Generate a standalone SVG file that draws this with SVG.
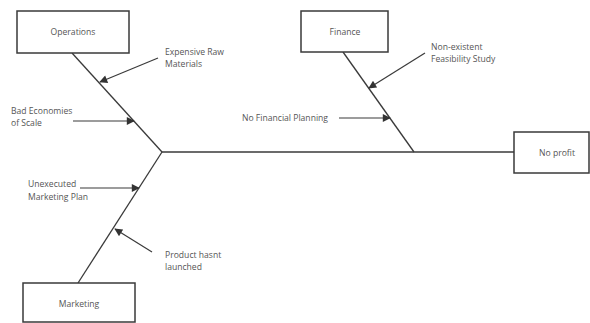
<svg xmlns="http://www.w3.org/2000/svg" width="590" height="323" viewBox="0 0 590 323">
<style>
.box{fill:#fff;stroke:#3a3a3a;stroke-width:1.5}
.bone{stroke:#3a3a3a;stroke-width:1.3;fill:none}
.arr{stroke:#3a3a3a;stroke-width:1.2;fill:none;marker-end:url(#ah)}
text{font-family:"Open Sans","Liberation Sans",sans-serif;font-size:8.6px;fill:#555}
.c{text-anchor:middle}
</style>
<defs>
<marker id="ah" viewBox="0 0 10 10" refX="9" refY="5" markerWidth="9" markerHeight="8" orient="auto" markerUnits="userSpaceOnUse">
<path d="M0,0 L10,5 L0,10 z" fill="#333"/>
</marker>
</defs>
<rect width="590" height="323" fill="#fff"/>
<g id="connectors">
<line class="bone" x1="162" y1="152" x2="514" y2="152"/>
<line class="bone" x1="72" y1="53" x2="162" y2="152"/>
<line class="bone" x1="162" y1="152" x2="78" y2="283"/>
<line class="bone" x1="343" y1="52" x2="414" y2="152"/>
<line class="arr" x1="158" y1="58" x2="100" y2="82"/>
<line class="arr" x1="73" y1="121" x2="134" y2="121"/>
<line class="arr" x1="80" y1="188" x2="139" y2="188"/>
<line class="arr" x1="152" y1="252" x2="115" y2="229"/>
<line class="arr" x1="425" y1="53" x2="369" y2="88"/>
<line class="arr" x1="339" y1="118" x2="390" y2="118"/>
</g>
<g id="operations">
<rect class="box" x="17" y="11" width="112" height="42"/>
<text class="c" x="73" y="35">Operations</text>
</g>
<g id="finance">
<rect class="box" x="301" y="11" width="87" height="41"/>
<text class="c" x="345" y="35">Finance</text>
</g>
<g id="no-profit">
<rect class="box" x="514" y="132" width="75" height="41"/>
<text class="c" x="557" y="156">No profit</text>
</g>
<g id="marketing">
<rect class="box" x="23" y="283" width="112" height="39"/>
<text class="c" x="79" y="307">Marketing</text>
</g>
<g id="expensive-raw-materials">
<text x="165" y="55">Expensive Raw</text>
<text x="165" y="67">Materials</text>
</g>
<g id="bad-economies">
<text x="11" y="114">Bad Economies</text>
<text x="11" y="126">of Scale</text>
</g>
<g id="unexecuted-marketing">
<text x="28" y="187">Unexecuted</text>
<text x="28" y="200">Marketing Plan</text>
</g>
<g id="product-hasnt-launched">
<text x="165" y="258">Product hasnt</text>
<text x="165" y="270">launched</text>
</g>
<g id="non-existent-feasibility">
<text x="431" y="50">Non-existent</text>
<text x="431" y="62">Feasibility Study</text>
</g>
<g id="no-financial-planning">
<text x="242" y="121">No Financial Planning</text>
</g>
</svg>
